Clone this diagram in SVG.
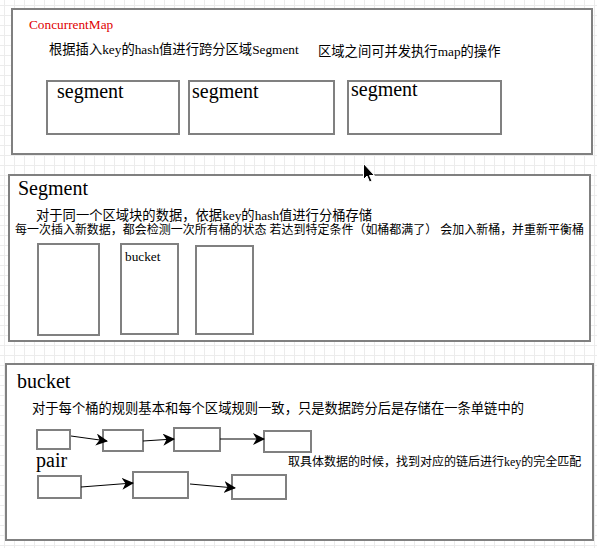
<svg xmlns="http://www.w3.org/2000/svg" width="597" height="548" viewBox="0 0 597 548">
<style>
.box{fill:#fff;stroke:#808080;stroke-width:2}
.t{font-family:"Liberation Serif","Noto Sans CJK SC",serif;fill:#000}
.s13{font-size:13.3px}
.s12{font-size:12px}
.s20{font-size:20px}
.ln{stroke:#000;stroke-width:1;fill:none}
</style>
<defs>
<pattern id="grid" width="10" height="10" patternUnits="userSpaceOnUse" x="4" y="5">
<path d="M0 0.5H10M0.5 0V10" stroke="#ececec" stroke-width="1" fill="none"/>
</pattern>
<marker id="ah" markerWidth="14" markerHeight="14" refX="11" refY="6" orient="auto" markerUnits="userSpaceOnUse">
<path d="M0 0L12 6L0 12L3.5 6Z" fill="#000"/>
</marker>
</defs>
<rect width="597" height="548" fill="#fff"/>
<rect width="597" height="548" fill="url(#grid)"/>

<g id="concurrentmap">
<rect class="box" x="12" y="9" width="580" height="145"/>
<text class="t s13" x="29" y="29" style="fill:#e00000">ConcurrentMap</text>
<text class="t s13" x="49" y="54">根据插入key的hash值进行跨分区域Segment</text>
<text class="t s13" x="318" y="56">区域之间可并发执行map的操作</text>
</g>
<g id="segment1">
<rect class="box" x="47" y="81" width="132" height="53"/>
<text class="t s20" x="57" y="98">segment</text>
</g>
<g id="segment2">
<rect class="box" x="189" y="81" width="145" height="53"/>
<text class="t s20" x="192" y="98">segment</text>
</g>
<g id="segment3">
<rect class="box" x="348" y="81" width="153" height="53"/>
<text class="t s20" x="351" y="96">segment</text>
</g>

<g id="segment">
<rect class="box" x="9" y="175" width="581" height="166"/>
<text class="t s20" x="18" y="195">Segment</text>
<text class="t s13" x="36" y="220">对于同一个区域块的数据，依据key的hash值进行分桶存储</text>
<text class="t s12" x="15" y="234" textLength="569" lengthAdjust="spacingAndGlyphs">每一次插入新数据，都会检测一次所有桶的状态 若达到特定条件（如桶都满了） 会加入新桶，并重新平衡桶</text>
</g>
<g id="bucket1"><rect class="box" x="38" y="244" width="61" height="91"/></g>
<g id="bucket2">
<rect class="box" x="121" y="244" width="57" height="90"/>
<text class="t s13" x="125" y="261">bucket</text>
</g>
<g id="bucket3"><rect class="box" x="196" y="246" width="57" height="88"/></g>

<g id="bucket">
<rect class="box" x="6" y="364" width="587" height="176"/>
<text class="t s20" x="17" y="388">bucket</text>
<text class="t s13" x="32" y="413">对于每个桶的规则基本和每个区域规则一致，只是数据跨分后是存储在一条单链中的</text>
<text class="t s20" x="36" y="467">pair</text>
<text class="t s12" x="288" y="466">取具体数据的时候，找到对应的链后进行key的完全匹配</text>
</g>
<g id="p1"><rect class="box" x="37" y="430" width="33" height="19"/></g>
<g id="p2"><rect class="box" x="103" y="430" width="40" height="21"/></g>
<g id="p3"><rect class="box" x="174" y="428" width="46" height="23"/></g>
<g id="p4"><rect class="box" x="264" y="431" width="47" height="21"/></g>
<g id="q1"><rect class="box" x="38" y="476" width="43" height="22"/></g>
<g id="q2"><rect class="box" x="133" y="472" width="55" height="26"/></g>
<g id="q3"><rect class="box" x="232" y="475" width="54" height="24"/></g>

<g id="connectors">
<line class="ln" x1="71" y1="436" x2="107" y2="441" marker-end="url(#ah)"/>
<line class="ln" x1="143" y1="441" x2="174" y2="439" marker-end="url(#ah)"/>
<line class="ln" x1="220" y1="439" x2="264" y2="439" marker-end="url(#ah)"/>
<line class="ln" x1="81" y1="487" x2="133" y2="483" marker-end="url(#ah)"/>
<line class="ln" x1="190" y1="484" x2="235" y2="488" marker-end="url(#ah)"/>
</g>

<path d="M363.5 163.5V179.5L367 176L369.5 182L372 181L369.5 175.5L374.5 175.5Z" fill="#000" stroke="#fff" stroke-width="1"/>
</svg>
